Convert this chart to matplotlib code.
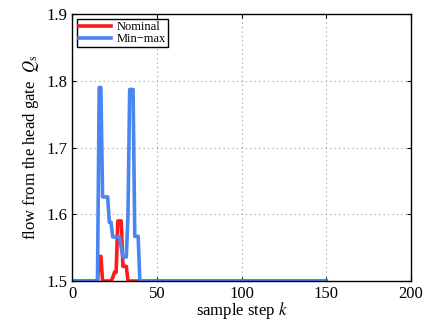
import matplotlib
matplotlib.use("Agg")
import matplotlib.pyplot as plt
import numpy as np

plt.rcParams['font.family'] = ['Liberation Serif', 'DejaVu Serif']
plt.rcParams['mathtext.fontset'] = 'stix'

# sample steps 0..150
steps = np.arange(0, 151)

# Nominal: values that differ from 1.5
nominal_pts = {16: 1.537, 17: 1.537, 24: 1.505, 25: 1.513, 26: 1.513,
               27: 1.59, 28: 1.59, 29: 1.59, 30: 1.522, 31: 1.522, 32: 1.522}
# Min-max
minmax_pts = {16: 1.79, 17: 1.79, 18: 1.626, 19: 1.626, 20: 1.626, 21: 1.626,
              22: 1.588, 23: 1.588, 24: 1.566, 25: 1.566, 26: 1.566, 27: 1.566,
              28: 1.566, 29: 1.55, 30: 1.536, 31: 1.536, 32: 1.536,
              33: 1.6, 34: 1.787, 35: 1.787, 36: 1.787,
              37: 1.567, 38: 1.567, 39: 1.567}

nominal = np.full(len(steps), 1.5)
for k, v in nominal_pts.items():
    nominal[k] = v
minmax = np.full(len(steps), 1.5)
for k, v in minmax_pts.items():
    minmax[k] = v

fig = plt.figure(figsize=(4.29, 3.21), dpi=100)
ax = fig.add_axes([0.168, 0.1246, 0.79, 0.8314])

ax.plot(steps, nominal, color='#ff1a1a', lw=2.6, label='Nominal')
ax.plot(steps, minmax, color='#4a86f0', lw=2.6, label='Min\u2212max')

ax.set_xlim(0, 200)
ax.set_ylim(1.5, 1.9)
ax.set_xticks([0, 50, 100, 150, 200])
ax.set_yticks([1.5, 1.6, 1.7, 1.8, 1.9])
ax.set_yticklabels(['1.5', '1.6', '1.7', '1.8', '1.9'])
ax.tick_params(direction='in', top=True, right=True, labelsize=12, length=3)
ax.grid(True, linestyle=(0, (1, 3)), color='#999999', lw=0.8)
for s in ax.spines.values():
    s.set_linewidth(1.0)

ax.set_xlabel('sample step $k$', fontsize=12, labelpad=-1)
ax.set_ylabel('flow from the head gate  $Q_{\\rm s}$', fontsize=12, labelpad=4)

leg = ax.legend(loc='upper left', fontsize=9, fancybox=False, framealpha=1,
                edgecolor='black', borderpad=0.15, handlelength=2.6,
                handletextpad=0.4, labelspacing=0.0, borderaxespad=0.4)
leg.get_frame().set_linewidth(1.0)

fig.savefig('out.png', dpi=100)
